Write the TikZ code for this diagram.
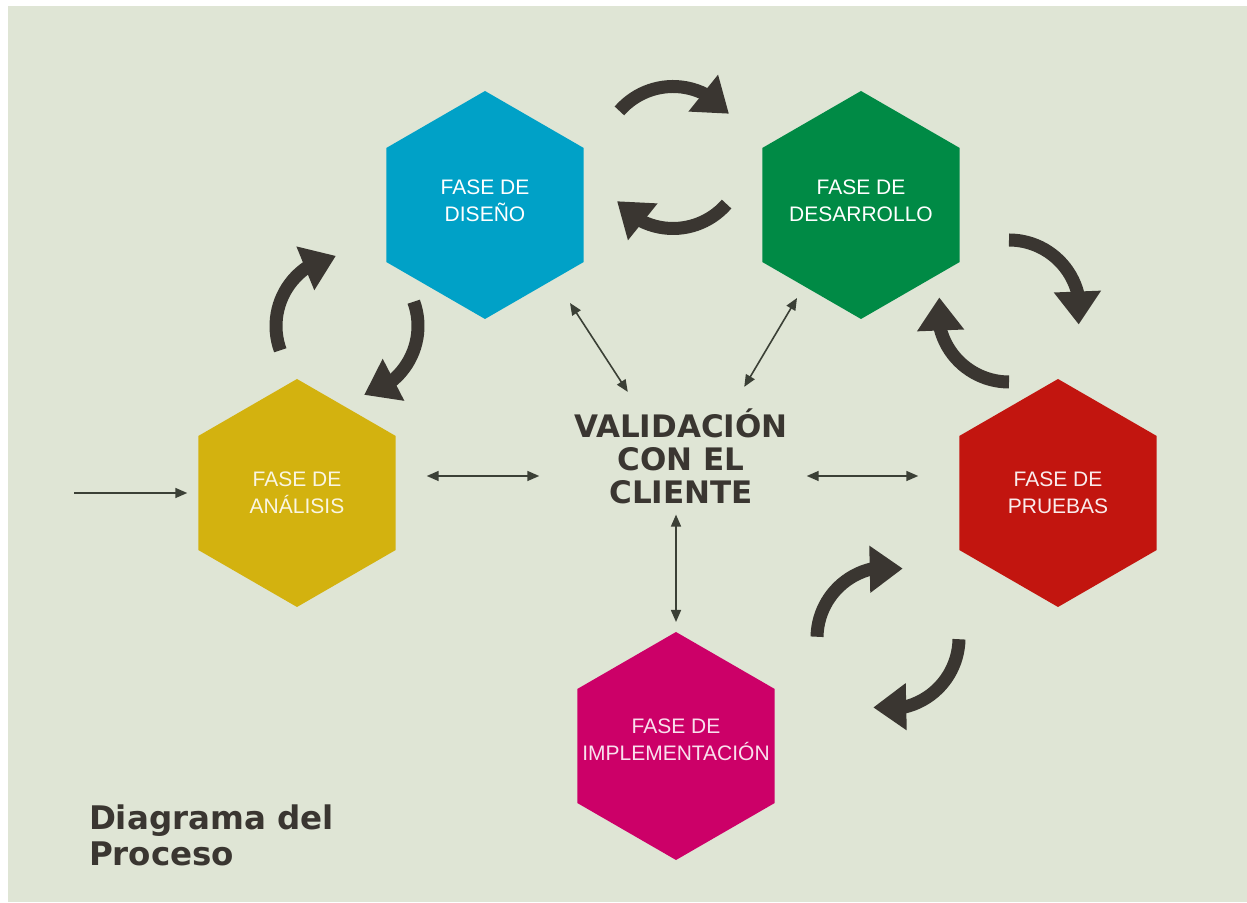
\documentclass[tikz,border=0pt]{standalone}
\usepackage{fontspec}
\setmainfont{Liberation Sans}
\newfontfamily\heavyfont{DejaVu Sans}
\definecolor{bg}{HTML}{DFE5D5}
\definecolor{an}{HTML}{D3B20F}
\definecolor{di}{HTML}{00A1C7}
\definecolor{de}{HTML}{008A45}
\definecolor{pr}{HTML}{C2150F}
\definecolor{im}{HTML}{CC0068}
\definecolor{ink}{HTML}{3A3631}
\definecolor{thin}{HTML}{3B4036}
\usetikzlibrary{
  shapes.geometric, % hexagons
  arrows.meta,      % triangle tips
  bending           % tips that follow the curved arrows
}
\tikzset{
    x=1pt, y=1pt,
    every node/.style = {
        inner sep=0pt,
        outer sep=0pt
    },
    phase/.style = {
        regular polygon,
        regular polygon sides=6,
        shape border rotate=30,
        minimum size=228pt,
        draw=none
    },
    phasetext/.style = {align=center, font=\fontsize{21}{27.5}\selectfont},
    analisis/.append style = {fill=an},
    diseno/.append style = {fill=di},
    desarrollo/.append style = {fill=de},
    pruebas/.append style = {fill=pr},
    implem/.append style = {fill=im},
    valbox/.style = {align=center, text=ink, font=\heavyfont\bfseries\fontsize{31}{33}\selectfont},
    title/.style = {align=left, text=ink, font=\heavyfont\bfseries\fontsize{32.5}{36}\selectfont},
    link/.style = {draw=thin, line width=1.6pt,
        {Triangle[length=12pt,width=10pt]}-{Triangle[length=12pt,width=10pt]}},
    feed/.style = {draw=thin, line width=1.6pt, -{Triangle[length=12pt,width=10pt]}},
    turn/.style = {draw=ink, line width=13pt, -{Triangle[length=33pt,width=45pt]}}
}

\begin{document}
\begin{tikzpicture}

  \useasboundingbox (0,0) rectangle (1247,902);
  \fill[bg] (8,0) rectangle (1247,896);

  %% phases
  \node [phase, analisis] (ana) at (297,409) {};
  \node [phase, diseno] (dis) at (485,697) {};
  \node [phase, desarrollo] (des) at (861,697) {};
  \node [phase, pruebas] (pru) at (1058,409) {};
  \node [phase, implem] (imp) at (676,156) {};

  \node [phasetext, text=an!12!white] (anat) at (ana) {FASE DE\\ANÁLISIS};
  \node [phasetext, text=white, yshift=4pt] (dist) at (dis) {FASE DE\\DISEÑO};
  \node [phasetext, text=white, yshift=4pt] (dest) at (des) {FASE DE\\DESARROLLO};
  \node [phasetext, text=pr!8!white] (prut) at (pru) {FASE DE\\PRUEBAS};
  \node [phasetext, text=im!12!white, yshift=6pt] (impt) at (imp) {FASE DE\\IMPLEMENTACIÓN};

  %% centre
  \node [valbox] (val) at (681,446) {VALIDACIÓN\\CON EL\\CLIENTE};

  %% title
  \node [title, anchor=north west] (titulo) at (89,97) {Diagrama del\\Proceso};

  %% thin arrows
  \coordinate (entry) at (74,409);
  \draw [feed, shorten >=11pt] (entry) -- (ana.west);
  \draw [link, shorten <=31pt, shorten >=35pt] ([yshift=17pt]ana.east) -- ([yshift=-20pt]val.west);
  \draw [link, shorten <=19pt, shorten >=41pt] ([yshift=-20pt]val.east) -- ([yshift=17pt]pru.west);
  \draw [link, shorten <=11pt, shorten >=10pt] (imp.north |- val.south) -- (imp.north);
  \draw [link] ([shift={(85,16)}]dis.south) -- ([shift={(53.5,16.5)}]val.north west);
  \draw [link] ([shift={(-64,21)}]des.south) -- ([shift={(-43.5,21.5)}]val.north east);

  %% round arrows
  \coordinate (dd) at (673,744.5);
  \coordinate (ad) at (347,576);
  \coordinate (dp) at (1009,591);
  \coordinate (pi) at (888,264);

  \draw [turn] ([shift={(139:71pt)}]dd) arc [start angle=139, delta angle=-101, radius=71pt];
  \draw [turn] ([shift={(-41:71pt)}]dd) arc [start angle=-41, delta angle=-101, radius=71pt];

  \draw [turn] ([shift={(200:71pt)}]ad) arc [start angle=200, delta angle=-101, radius=71pt];
  \draw [turn] ([shift={(20:71pt)}]ad) arc [start angle=20, delta angle=-96, radius=71pt];

  \draw [turn] ([shift={(90:71pt)}]dp) arc [start angle=90, delta angle=-101, radius=71pt];
  \draw [turn] ([shift={(270:71pt)}]dp) arc [start angle=270, delta angle=-101, radius=71pt];

  \draw [turn] ([shift={(179:71pt)}]pi) arc [start angle=179, delta angle=-101, radius=71pt];
  \draw [turn] ([shift={(359:71pt)}]pi) arc [start angle=359, delta angle=-101, radius=71pt];

\end{tikzpicture}
\end{document}
